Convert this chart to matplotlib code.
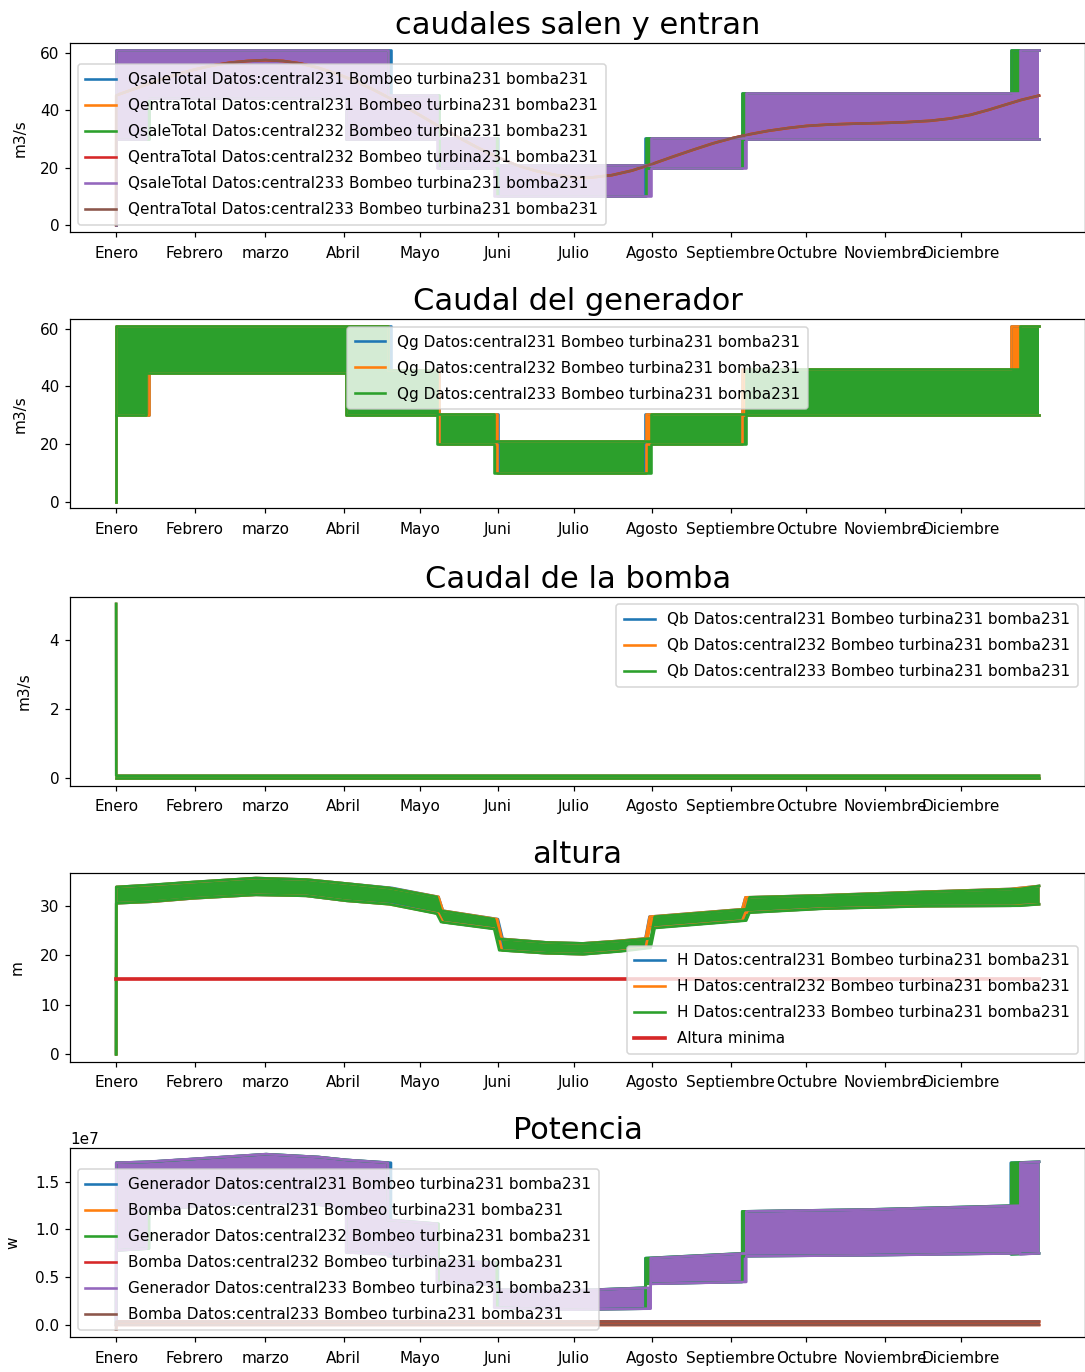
import numpy as np
import matplotlib
matplotlib.use('Agg')
import matplotlib.pyplot as plt

# meses (dia de inicio de cada mes)
mes_dias = [0, 31, 59, 90, 120, 151, 181, 212, 243, 273, 304, 334]
mes_nombres = ['Enero', 'Febrero', 'marzo', 'Abril', 'Mayo', 'Juni', 'Julio',
               'Agosto', 'Septiembre', 'Octubre', 'Noviembre', 'Diciembre']

centrales = ['central231', 'central232', 'central233']
sufijo = 'Bombeo turbina231 bomba231'

# caudal turbinado: niveles min / max de cada tramo (m3/s)
q_min = [0, 30, 44.5, 30, 30, 20, 10, 20, 30, 30]
q_max = [30, 61, 61, 61, 45.5, 30.5, 21, 30.5, 46, 61]
# dias de cambio de tramo por central
q_cortes = {
    'central231': [0, 0.05, 13.0, 91.0, 108.7, 127.5, 151.0, 209.3, 247.6, 353.8, 365],
    'central232': [0, 0.05, 13.0, 91.0, 107.5, 127.5, 150.7, 209.4, 247.6, 354.0, 365],
    'central233': [0, 0.05, 12.0, 91.0, 107.5, 126.8, 149.5, 211.4, 249.2, 357.6, 365],
}

# caudal que entra (curva suave)
qe_dias = [0, 0.05, 8, 16, 24, 31, 38, 45, 52, 59, 66, 73, 80, 87, 94, 101, 108,
           115, 122, 129, 136, 143, 151, 158, 166, 174, 181, 188, 196, 204, 212,
           220, 228, 236, 243, 250, 258, 266, 273, 282, 292, 302, 312, 322, 330,
           338, 345, 352, 358, 365]
qe_vals = [0, 45.3, 47.8, 50.3, 52.6, 54.3, 55.7, 56.7, 57.3, 57.6, 57.3, 56.4,
           54.9, 52.9, 50.5, 47.6, 44.4, 41.0, 37.4, 33.8, 30.3, 27.0, 23.6, 21.0,
           18.9, 17.4, 16.7, 16.6, 17.4, 19.0, 21.3, 23.8, 26.2, 28.5, 30.2, 31.6,
           32.9, 33.9, 34.6, 35.1, 35.4, 35.6, 35.9, 36.4, 37.2, 38.5, 40.2, 42.1,
           43.7, 45.2]

# caudal de la bomba
qb_dias = [0, 0.05, 365]
qb_min = [0, 0, 0]
qb_max = [5.05, 0.06, 0.06]

# altura (central233), min / max
h_dias = [0, 0.05, 13, 30, 55, 75, 91, 108, 126.8, 128.5, 149.5, 151.5, 170, 185,
          200, 211.4, 213, 249.2, 250.5, 280, 320, 357.6, 365]
h_min = [0, 30.5, 30.8, 31.5, 32.2, 32.0, 31.0, 30.3, 28.4, 26.7, 25.3, 21.0, 20.4,
         20.2, 20.8, 21.5, 25.5, 27.0, 28.6, 29.4, 29.9, 30.0, 30.3]
h_max = [0, 33.8, 34.2, 34.8, 35.6, 35.3, 34.5, 33.6, 31.8, 29.0, 27.3, 23.3, 22.6,
         22.4, 22.9, 23.4, 27.8, 29.3, 31.7, 32.1, 32.8, 33.4, 34.0]
altura_minima = 15.2

# potencia generador (central233), min / max en 1e7 W
p_dias = [0, 0.05, 12.0, 12.0, 30, 59, 80, 91.0, 91.0, 107.5, 107.5, 126.8, 126.8,
          149.5, 149.5, 180, 211.4, 211.4, 249.2, 249.2, 300, 357.6, 357.6, 365]
p_min = [0, 0.78, 0.80, 1.20, 1.24, 1.28, 1.26, 1.22, 0.76, 0.74, 0.72, 0.70, 0.44,
         0.42, 0.18, 0.16, 0.17, 0.43, 0.45, 0.72, 0.73, 0.75, 0.74, 0.75]
p_max = [0, 1.70, 1.71, 1.71, 1.74, 1.79, 1.76, 1.73, 1.73, 1.70, 1.10, 1.06, 0.68,
         0.65, 0.37, 0.36, 0.39, 0.70, 0.75, 1.19, 1.21, 1.25, 1.70, 1.71]
# potencia bomba
pb_dias = [0, 0.05, 365]
pb_min = [-0.05, 0, 0]
pb_max = [0, 0.035, 0.035]

colores = plt.rcParams['axes.prop_cycle'].by_key()['color']
plt.rcParams['lines.linewidth'] = 1.7
plt.rcParams['legend.labelspacing'] = 0.72
plt.rcParams['legend.borderpad'] = 0.5
plt.rcParams['xtick.major.pad'] = 5.5


def banda(ax, x, lo, hi, color, label, step=None):
    ax.fill_between(x, lo, hi, color=color, step=step, lw=0)
    ds = 'steps-post' if step == 'post' else 'default'
    ax.plot(x, hi, color=color, drawstyle=ds, label=label)
    ax.plot(x, lo, color=color, drawstyle=ds)


def dias_central(dias, central):
    # traslada los cambios de tramo de central233 a los de otra central
    return np.interp(dias, q_cortes['central233'], q_cortes[central])


fig = plt.figure(figsize=(1085 / 110, 1372 / 110), dpi=110)
bottoms = [0.8307, 0.6295, 0.4273, 0.2262, 0.0253]
axs = [fig.add_axes([0.0645, b, 0.9357, 0.1378]) for b in bottoms]

# caudales salen y entran
ax = axs[0]
for i, c in enumerate(centrales):
    x = q_cortes[c]
    banda(ax, x, q_min + [q_min[-1]], q_max + [q_max[-1]], colores[2 * i],
          f'QsaleTotal Datos:{c} {sufijo}', step='post')
    ax.plot(qe_dias, qe_vals, color=colores[2 * i + 1],
            label=f'QentraTotal Datos:{c} {sufijo}')
ax.set_title('caudales salen y entran', fontsize=20)
ax.set_ylabel('m3/s', labelpad=8)
ax.set_ylim(-2.55, 63.5)
ax.legend(loc='lower left')

# Caudal del generador
ax = axs[1]
for i, c in enumerate(centrales):
    banda(ax, q_cortes[c], q_min + [q_min[-1]], q_max + [q_max[-1]], colores[i],
          f'Qg Datos:{c} {sufijo}', step='post')
ax.set_title('Caudal del generador', fontsize=20)
ax.set_ylabel('m3/s', labelpad=8)
ax.set_ylim(-2.3, 63.25)
ax.legend(loc='upper center')

# Caudal de la bomba
ax = axs[2]
for i, c in enumerate(centrales):
    banda(ax, qb_dias, qb_min, qb_max, colores[i], f'Qb Datos:{c} {sufijo}')
ax.set_title('Caudal de la bomba', fontsize=20)
ax.set_ylabel('m3/s', labelpad=12)
ax.set_yticks([0, 2, 4])
ax.set_ylim(-0.23, 5.26)
ax.legend(loc='upper right')

# altura
ax = axs[3]
for i, c in enumerate(centrales):
    banda(ax, dias_central(h_dias, c), h_min, h_max, colores[i],
          f'H Datos:{c} {sufijo}')
ax.plot([0, 365], [altura_minima, altura_minima], color=colores[3], lw=2.4,
        label='Altura minima')
ax.set_title('altura', fontsize=20)
ax.set_ylabel('m', labelpad=10)
ax.set_ylim(-1.5, 36.7)
ax.legend(loc='lower right')

# Potencia
ax = axs[4]
for i, c in enumerate(centrales):
    banda(ax, dias_central(p_dias, c), np.array(p_min) * 1e7, np.array(p_max) * 1e7,
          colores[2 * i], f'Generador Datos:{c} {sufijo}')
    banda(ax, pb_dias, np.array(pb_min) * 1e7, np.array(pb_max) * 1e7,
          colores[2 * i + 1], f'Bomba Datos:{c} {sufijo}')
ax.set_title('Potencia', fontsize=20)
ax.set_ylabel('w', labelpad=10)
ax.set_ylim(-0.13e7, 1.852e7)
ax.legend(loc='lower left')

for ax in axs:
    ax.set_xticks(mes_dias)
    ax.set_xticklabels(mes_nombres)
    ax.set_xlim(-18.25, 383.25)

fig.savefig('out.png', dpi=110)
